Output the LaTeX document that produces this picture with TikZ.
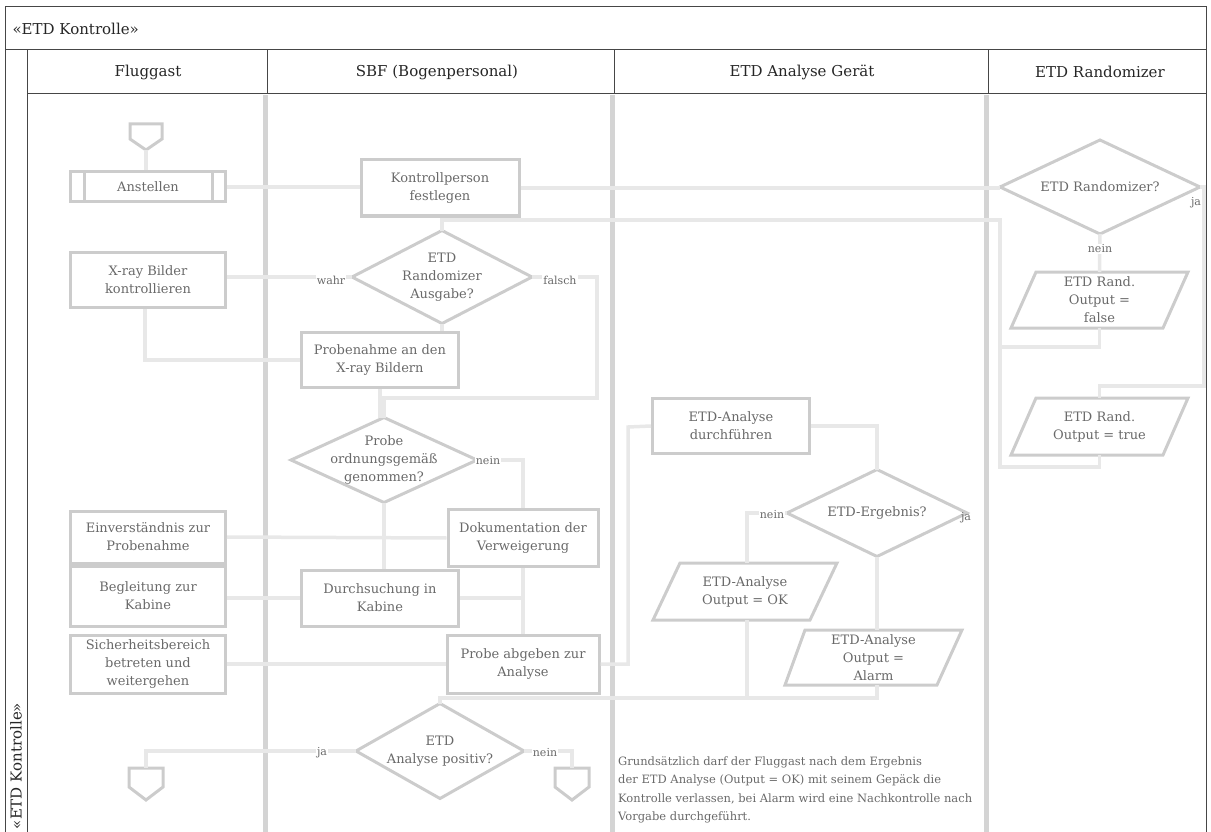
\documentclass[tikz,border=0pt]{standalone}
\usepackage{fontspec}
\setmainfont{DejaVu Serif}
\usetikzlibrary{calc}
\definecolor{boxc}{RGB}{204,204,204}
\definecolor{linec}{RGB}{232,232,232}
\definecolor{lanec}{RGB}{212,212,212}
\definecolor{framec}{RGB}{70,70,70}
\definecolor{txt}{RGB}{105,105,105}
\newcommand\ndfont{\fontsize{13}{18}\selectfont}
\newcommand\hdfont{\fontsize{15}{18}\selectfont}
\newcommand\lbfont{\fontsize{11}{13}\selectfont}
\newcommand\ntfont{\fontsize{11.5}{18.5}\selectfont}
\begin{document}
\begin{tikzpicture}[x=1pt,y=-1pt,
  box/.style={draw=boxc,line width=3pt,inner sep=2pt,align=center,font=\ndfont,text=txt},
  para/.style={inner sep=0pt,outer sep=0pt,align=center,font=\ndfont,text=txt},
  conn/.style={draw=linec,line width=3.5pt},
  lbl/.style={font=\lbfont,text=txt,inner sep=1pt,fill=white},
  hdr/.style={font=\hdfont,text=black!85},
  boxline/.style={draw=boxc,line width=3pt,line join=miter},
  ghost/.style={inner sep=0pt,outer sep=0pt}
]
\useasboundingbox (0,0) rectangle (1211,832);
% frame
\draw[framec,line width=1pt] (5,832) -- (5,7) -- (1206,7) -- (1206,832);
\draw[framec,line width=1pt] (5,50) -- (1206,50);
\draw[framec,line width=1pt] (27,50) -- (27,832);
\draw[framec,line width=1pt] (27,94) -- (1206,94);
\foreach \x in {267.5,614.5,988.5} \draw[framec,line width=1pt] (\x,50) -- (\x,94);
\foreach \x in {265,612,986} \draw[lanec,line width=5pt] (\x,95) -- (\x,832);
% headers
\node[hdr,anchor=west] (title) at (9,29) {«ETD Kontrolle»};
\node[hdr] (h1) at (148,72) {Fluggast};
\node[hdr] (h2) at (437,72) {SBF (Bogenpersonal)};
\node[hdr] (h3) at (802,72) {ETD Analyse Gerät};
\node[hdr] (h4) at (1100,72) {ETD Randomizer};
\node[hdr,rotate=90] (vt) at (16,766) {«ETD Kontrolle»};

% Fluggast lane
\node[ghost,minimum width=32pt,minimum height=26pt] (start) at (146,137) {};
\draw[boxline] (start.north west) -- (start.north east) -- ($(start.east)+(0,2)$) -- (start.south) -- ($(start.west)+(0,2)$) -- cycle;
\node[box,minimum width=155pt,minimum height=30pt] (aus) at (148,187) {Anstellen};
\draw[boxline] ($(aus.north west)+(15,0)$) -- ($(aus.south west)+(15,0)$);
\draw[boxline] ($(aus.north east)+(-15,0)$) -- ($(aus.south east)+(-15,0)$);
\node[box,minimum width=155pt,minimum height=55pt] (xray) at (148,280) {X-ray Bilder\\kontrollieren};
\node[box,minimum width=155pt,minimum height=52pt] (flA) at (148,537) {Einverständnis zur\\Probenahme};
\node[box,minimum width=155pt,minimum height=60pt] (flB) at (148,596) {Begleitung zur\\Kabine};
\node[box,minimum width=155pt,minimum height=58pt] (flC) at (148,664) {Sicherheitsbereich\\betreten und\\weitergehen};
\node[ghost,minimum width=34pt,minimum height=32pt] (endL) at (146,784) {};
\draw[boxline] (endL.north west) -- (endL.north east) -- ($(endL.east)+(0,3)$) -- (endL.south) -- ($(endL.west)+(0,3)$) -- cycle;

% SBF lane
\node[box,minimum width=158pt,minimum height=56pt] (kp) at (440,188) {Kontrollperson\\festlegen};
\node[para,minimum width=180pt,minimum height=93pt] (d1) at (442,277) {ETD\\Randomizer\\Ausgabe?};
\draw[boxline] (d1.north) -- (d1.east) -- (d1.south) -- (d1.west) -- cycle;
\node[box,minimum width=157pt,minimum height=55pt] (pn) at (380,360) {Probenahme an den\\X-ray Bildern};
\node[para,minimum width=186pt,minimum height=85pt] (d2) at (384,460) {Probe\\ordnungsgemäß\\genommen?};
\draw[boxline] (d2.north) -- (d2.east) -- (d2.south) -- (d2.west) -- cycle;
\node[box,minimum width=150pt,minimum height=57pt] (auf) at (523,538) {Dokumentation der\\Verweigerung};
\node[box,minimum width=157pt,minimum height=56pt] (du) at (380,598) {Durchsuchung in\\Kabine};
\node[box,minimum width=152pt,minimum height=58pt] (pa) at (523,664) {Probe abgeben zur\\Analyse};
\node[para,minimum width=168pt,minimum height=95pt] (d3) at (440,751) {ETD\\Analyse positiv?};
\draw[boxline] (d3.north) -- (d3.east) -- (d3.south) -- (d3.west) -- cycle;
\node[ghost,minimum width=34pt,minimum height=32pt] (endR) at (572,784) {};
\draw[boxline] (endR.north west) -- (endR.north east) -- ($(endR.east)+(0,3)$) -- (endR.south) -- ($(endR.west)+(0,3)$) -- cycle;

% ETD Analyse lane
\node[box,minimum width=157pt,minimum height=55pt] (ea) at (731,426) {ETD-Analyse\\durchführen};
\node[para,minimum width=180pt,minimum height=87pt] (d4) at (877,513) {ETD-Ergebnis?};
\draw[boxline] (d4.north) -- (d4.east) -- (d4.south) -- (d4.west) -- cycle;
\node[para,minimum width=184pt,minimum height=57pt] (pok) at (745,591.5) {ETD-Analyse\\Output = OK};
\draw[boxline] ($(pok.north west)+(27,0)$) -- (pok.north east) -- ($(pok.south east)+(-27,0)$) -- (pok.south west) -- cycle;
\node[para,minimum width=177pt,minimum height=55pt] (pal) at (873.5,657.5) {ETD-Analyse\\Output =\\Alarm};
\draw[boxline] ($(pal.north west)+(20,0)$) -- (pal.north east) -- ($(pal.south east)+(-25,0)$) -- (pal.south west) -- cycle;
\node[anchor=north west,align=left,font=\ntfont,text=txt,inner sep=0pt] (note) at (618,756) {Grundsätzlich darf der Fluggast nach dem Ergebnis\\der ETD Analyse (Output = OK) mit seinem Gepäck die\\Kontrolle verlassen, bei Alarm wird eine Nachkontrolle nach\\Vorgabe durchgeführt.};

% Randomizer lane
\node[para,minimum width=200pt,minimum height=94pt] (d5) at (1100,187) {ETD Randomizer?};
\draw[boxline] (d5.north) -- (d5.east) -- (d5.south) -- (d5.west) -- cycle;
\node[para,minimum width=177pt,minimum height=56pt] (pr1) at (1099.5,300) {ETD Rand.\\Output =\\false};
\draw[boxline] ($(pr1.north west)+(25,0)$) -- (pr1.north east) -- ($(pr1.south east)+(-25,0)$) -- (pr1.south west) -- cycle;
\node[para,minimum width=177pt,minimum height=57pt] (pr2) at (1099.5,426.5) {ETD Rand.\\Output = true};
\draw[boxline] ($(pr2.north west)+(25,0)$) -- (pr2.north east) -- ($(pr2.south east)+(-25,0)$) -- (pr2.south west) -- cycle;

% connectors
\coordinate (c1) at (1000,220);
\coordinate (c2) at (1000,347);
\coordinate (c3) at (1000,467);
\coordinate (c4) at (1204,386);
\coordinate (c5) at (597,398);
\coordinate (c6) at (628,427);
\coordinate (c7) at (440,698);
\draw[conn] (start.south) -- (start.south |- aus.north);
\draw[conn] (aus.east) -- (aus.east -| kp.west);
\draw[conn] (kp.east) -- (kp.east -| d5.west);
\draw[conn] (d5.south) -- (pr1.north);
\draw[conn] (d5.east) -| (c4) -| (pr2.north);
\draw[conn] (pr1.south) |- (c2) -- (c1) -| (d1.north);
\draw[conn] (pr2.south) |- (c3) -- (c2);
\draw[conn] (d1.west) -- (d1.west -| xray.east);
\draw[conn] (d1.east) -| (c5) -| (d2.north);
\draw[conn] (d1.south) -- (d1.south |- pn.north);
\draw[conn] (pn.south) -- (pn.south |- d2.north);
\draw[conn] (xray.south -| 145,0) |- (pn.west);
\draw[conn] (d2.east) -| (auf.north);
\draw[conn] (d2.south) -- (d2.south |- du.north);
\draw[conn] (flA.east) -- (auf.west);
\draw[conn] (flB.east |- du.west) -- (du.west);
\draw[conn] (du.east) -- (du.east -| auf.south);
\draw[conn] (auf.south) -- (pa.north);
\draw[conn] (flC.east) -- (pa.west);
\draw[conn] (pa.east) -| (c6) -- (ea.west);
\draw[conn] (ea.east) -| (d4.north);
\draw[conn] (d4.west) -| (pok.north -| 747,0);
\draw[conn] (d4.south) -- (pal.north -| d4.south);
\draw[conn] (pok.south -| 747,0) -- (747,698);
\draw[conn] (pal.south -| 877,0) |- (c7) -- (d3.north);
\draw[conn] (d3.west) -| (endL.north);
\draw[conn] (d3.east) -| (endR.north);

% labels
\node[lbl] (l1) at (1100,249) {nein};
\node[lbl,fill=none] (l2) at (1196,203) {ja};
\node[lbl] (l3) at (331,280) {wahr};
\node[lbl] (l4) at (560,280) {falsch};
\node[lbl] (l5) at (488,461) {nein};
\node[lbl] (l6) at (772,515) {nein};
\node[lbl,fill=none] (l7) at (966,518) {ja};
\node[lbl] (l8) at (322,753) {ja};
\node[lbl] (l9) at (545,753) {nein};
\end{tikzpicture}
\end{document}
